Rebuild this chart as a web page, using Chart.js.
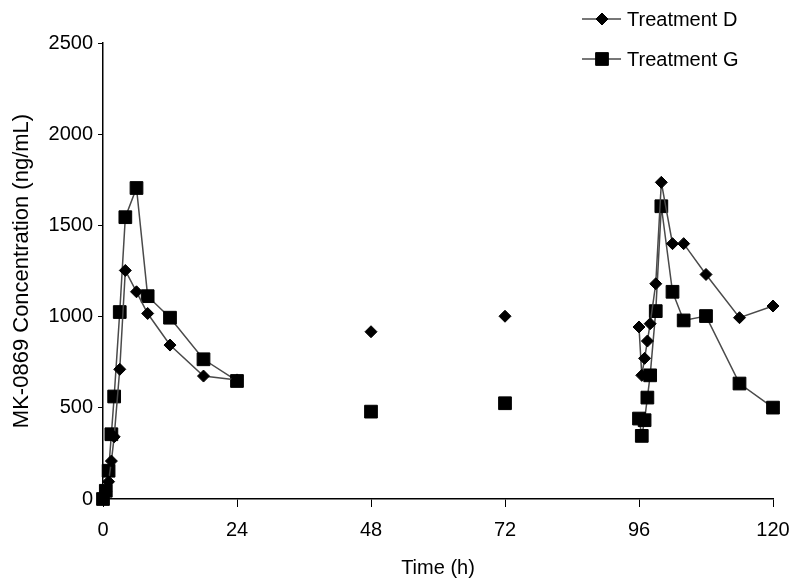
<!DOCTYPE html>
<html lang="en">
<head>
    <meta charset="UTF-8">
    <title>MK-0869 Concentration vs Time</title>
    <script src="https://cdn.jsdelivr.net/npm/chart.js"></script>
    <style>
        body { margin: 0; background: #fff; }
        #wrap { width: 792px; height: 584px; }
    </style>
</head>
<body>
    <div id="wrap"><canvas id="pkChart" width="792" height="584"></canvas></div>

    <script>
        // Sampling times (h) - two dosing periods plus the 48 h / 72 h troughs
        const times = [0, 0.5, 1, 1.5, 2, 3, 4, 6, 8, 12, 18, 24, 48, 72,
                       96, 96.5, 97, 97.5, 98, 99, 100, 102, 104, 108, 114, 120];
        // Concentrations (ng/mL)
        const treatmentD = [0, 40, 95, 208, 341, 711, 1253, 1136, 1017, 844, 674, 653, 917, 1002,
                            943, 678, 771, 866, 961, 1180, 1736, 1400, 1400, 1231, 994, 1058];
        const treatmentG = [0, 45, 155, 355, 562, 1025, 1545, 1705, 1112, 994, 766, 647, 479, 525,
                            441, 346, 432, 556, 678, 1030, 1605, 1136, 979, 1003, 633, 501];
        const seriesNames = ['Treatment D', 'Treatment G'];
        const xTicks = [0, 24, 48, 72, 96, 120];
        const yTicks = [0, 500, 1000, 1500, 2000, 2500];

        const FONT = "'Liberation Sans', Arial, sans-serif";
        const lineColor = '#4a4a4a';

        Chart.defaults.font.family = FONT;
        Chart.defaults.color = '#000';

        const toPoints = vals => times.map((t, i) => ({ x: t, y: vals[i] }));

        // no connecting line across the long gaps between sampling blocks
        const segColor = ctx => (ctx.p1.parsed.x - ctx.p0.parsed.x > 12 ? 'rgba(0,0,0,0)' : lineColor);

        // legend drawn inside the plot area (top right), line + marker like the original
        const legendPlugin = {
            id: 'insideLegend',
            afterDraw(chart) {
                const c = chart.ctx;
                const rows = [19, 59];
                chart.data.datasets.forEach((ds, i) => {
                    const y = rows[i];
                    c.save();
                    c.strokeStyle = lineColor;
                    c.lineWidth = 1.5;
                    c.beginPath();
                    c.moveTo(582, y);
                    c.lineTo(621, y);
                    c.stroke();
                    c.fillStyle = '#000';
                    c.strokeStyle = '#000';
                    c.lineWidth = 1;
                    Chart.helpers.drawPoint(c, {
                        pointStyle: ds.pointStyle,
                        radius: ds.pointRadius,
                        borderWidth: 1,
                        rotation: 0
                    }, 602, y);
                    c.fillStyle = '#000';
                    c.font = '20px ' + FONT;
                    c.textBaseline = 'middle';
                    c.textAlign = 'left';
                    c.fillText(ds.label, 627, y + 1);
                    c.restore();
                });
            }
        };

        const ctx = document.getElementById('pkChart').getContext('2d');
        const pkChart = new Chart(ctx, {
            type: 'line',
            data: {
                datasets: [
                    {
                        label: seriesNames[0],
                        data: toPoints(treatmentD),
                        borderColor: lineColor,
                        borderWidth: 1.5,
                        pointStyle: 'rectRot',
                        pointRadius: 6,
                        pointBackgroundColor: '#000',
                        pointBorderColor: '#000',
                        pointBorderWidth: 1,
                        segment: { borderColor: segColor },
                        tension: 0,
                        clip: false
                    },
                    {
                        label: seriesNames[1],
                        data: toPoints(treatmentG),
                        borderColor: lineColor,
                        borderWidth: 1.5,
                        pointStyle: 'rect',
                        pointRadius: 9,
                        pointBackgroundColor: '#000',
                        pointBorderColor: '#000',
                        pointBorderWidth: 1,
                        segment: { borderColor: segColor },
                        tension: 0,
                        clip: false
                    }
                ]
            },
            options: {
                responsive: false,
                animation: false,
                layout: { padding: { top: 43, right: 19, bottom: 0, left: 0 } },
                plugins: {
                    legend: { display: false },
                    tooltip: { enabled: false }
                },
                scales: {
                    x: {
                        type: 'linear',
                        min: 0,
                        max: 120,
                        afterBuildTicks: s => { s.ticks = xTicks.map(v => ({ value: v })); },
                        afterFit: s => { s.height = 85; s.paddingLeft = 0; s.paddingRight = 0; },
                        grid: { drawOnChartArea: false, drawTicks: true, tickLength: 8, color: '#000' },
                        border: { display: true, color: '#000', width: 1.5 },
                        ticks: { font: { size: 20 }, padding: 11, maxRotation: 0, callback: v => String(v) },
                        title: { display: true, text: 'Time (h)', font: { size: 20 }, padding: { top: 0, bottom: 4 } }
                    },
                    y: {
                        min: 0,
                        max: 2500,
                        afterBuildTicks: s => { s.ticks = yTicks.map(v => ({ value: v })); },
                        afterFit: s => { s.width = 103; s.paddingTop = 0; s.paddingBottom = 0; },
                        grid: { drawOnChartArea: false, drawTicks: true, tickLength: 5, color: '#000' },
                        border: { display: true, color: '#000', width: 1.5 },
                        ticks: { font: { size: 20 }, padding: 5, callback: v => String(v) },
                        title: { display: true, text: 'MK-0869 Concentration (ng/mL)', font: { size: 22 }, padding: { top: 9, bottom: 4 } }
                    }
                }
            },
            plugins: [legendPlugin]
        });
    </script>
</body>
</html>
